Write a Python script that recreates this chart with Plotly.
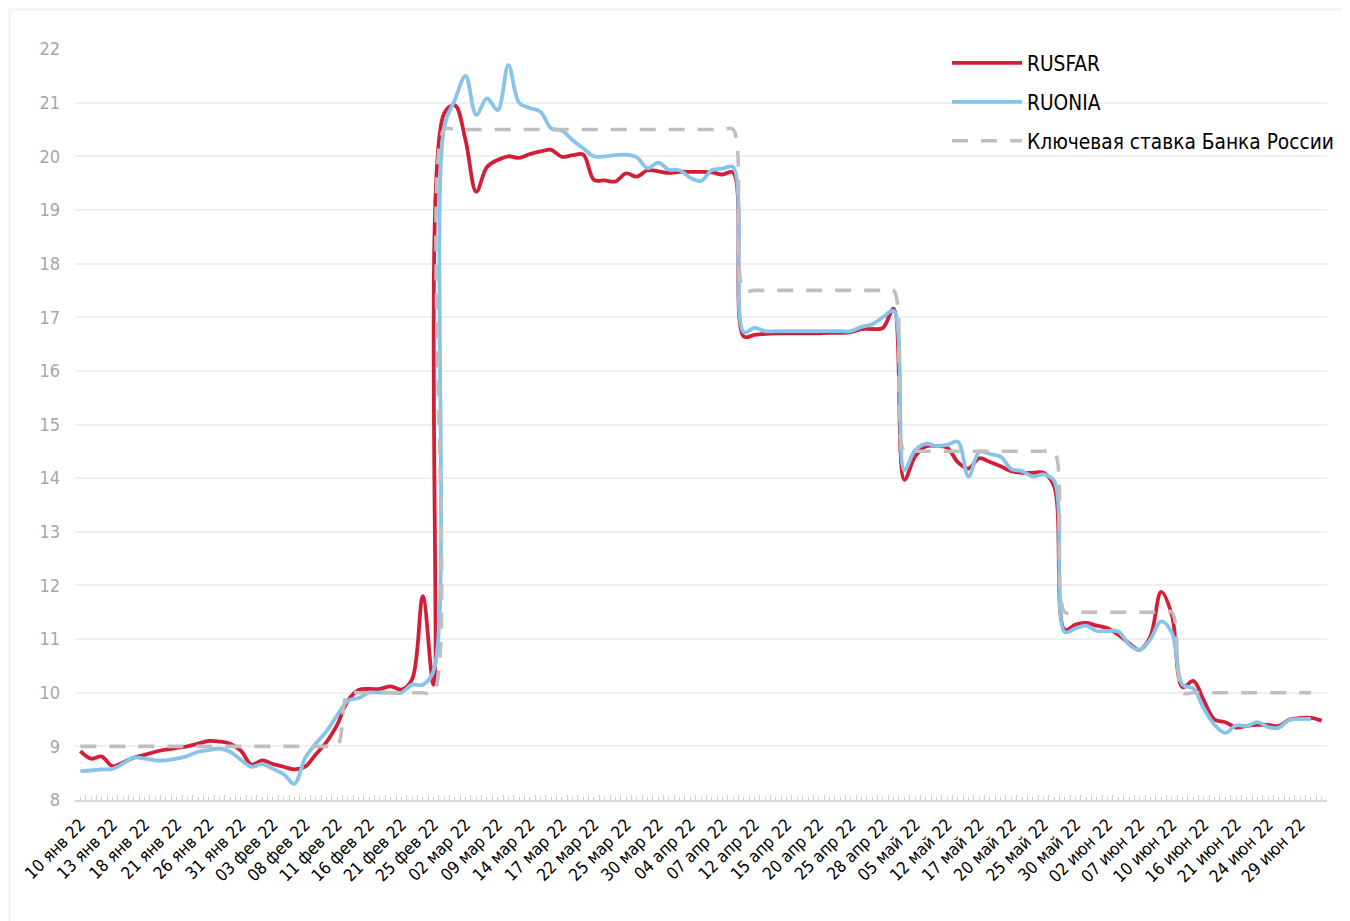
import plotly.graph_objects as go

# Business days (categories)
dates = [
    "10 янв 22", "11 янв 22", "12 янв 22", "13 янв 22", "14 янв 22",
    "17 янв 22", "18 янв 22", "19 янв 22", "20 янв 22", "21 янв 22",
    "24 янв 22", "25 янв 22", "26 янв 22", "27 янв 22", "28 янв 22",
    "31 янв 22",
    "01 фев 22", "02 фев 22", "03 фев 22", "04 фев 22",
    "07 фев 22", "08 фев 22", "09 фев 22", "10 фев 22", "11 фев 22",
    "14 фев 22", "15 фев 22", "16 фев 22", "17 фев 22", "18 фев 22",
    "21 фев 22", "22 фев 22", "24 фев 22", "25 фев 22", "28 фев 22",
    "01 мар 22", "02 мар 22", "03 мар 22", "04 мар 22",
    "09 мар 22", "10 мар 22", "11 мар 22",
    "14 мар 22", "15 мар 22", "16 мар 22", "17 мар 22", "18 мар 22",
    "21 мар 22", "22 мар 22", "23 мар 22", "24 мар 22", "25 мар 22",
    "28 мар 22", "29 мар 22", "30 мар 22", "31 мар 22",
    "01 апр 22", "04 апр 22", "05 апр 22", "06 апр 22", "07 апр 22",
    "08 апр 22", "11 апр 22", "12 апр 22", "13 апр 22", "14 апр 22",
    "15 апр 22", "18 апр 22", "19 апр 22", "20 апр 22", "21 апр 22",
    "22 апр 22", "25 апр 22", "26 апр 22", "27 апр 22", "28 апр 22",
    "29 апр 22",
    "04 май 22", "05 май 22", "06 май 22", "11 май 22", "12 май 22",
    "13 май 22", "16 май 22", "17 май 22", "18 май 22", "19 май 22",
    "20 май 22", "23 май 22", "24 май 22", "25 май 22", "26 май 22",
    "27 май 22", "30 май 22", "31 май 22",
    "01 июн 22", "02 июн 22", "03 июн 22", "06 июн 22", "07 июн 22",
    "08 июн 22", "09 июн 22", "10 июн 22", "14 июн 22", "15 июн 22",
    "16 июн 22", "17 июн 22", "20 июн 22", "21 июн 22", "22 июн 22",
    "23 июн 22", "24 июн 22", "27 июн 22", "28 июн 22", "29 июн 22",
    "30 июн 22", "01 июл 22",
]

rusfar = [
    8.91, 8.77, 8.81, 8.63, 8.70, 8.79, 8.84, 8.90, 8.94, 8.97,
    9.00, 9.05, 9.10, 9.09, 9.05, 8.92, 8.66, 8.74, 8.67, 8.62,
    8.57, 8.62, 8.85, 9.08, 9.40, 9.85, 10.05, 10.07, 10.07, 10.12,
    10.06, 10.25, 11.80, 10.15, 20.80, 20.95, 20.30, 19.34, 19.80, 19.93,
    20.00, 19.97, 20.04, 20.09, 20.12, 19.99, 20.02, 20.03, 19.56, 19.55,
    19.53, 19.68, 19.62, 19.74, 19.72, 19.69, 19.71, 19.71, 19.71, 19.70,
    19.66, 19.70, 16.64, 16.67, 16.69, 16.70, 16.70, 16.70, 16.70, 16.70,
    16.71, 16.71, 16.72, 16.78, 16.78, 16.80, 17.16, 13.97, 14.40, 14.59,
    14.60, 14.57, 14.30, 14.18, 14.37, 14.30, 14.22, 14.13, 14.10, 14.10,
    14.10, 13.85, 11.17, 11.27, 11.30, 11.25, 11.20, 11.08, 10.92, 10.80,
    11.05, 11.88, 11.45, 10.10, 10.22, 9.85, 9.50, 9.45, 9.35, 9.38,
    9.40, 9.40, 9.38, 9.50, 9.53, 9.53, 9.48,
]

ruonia = [
    8.54, 8.55, 8.57, 8.58, 8.68, 8.79, 8.77, 8.74, 8.74, 8.77,
    8.82, 8.90, 8.93, 8.96, 8.90, 8.75, 8.62, 8.67, 8.58, 8.48,
    8.30, 8.78, 9.05, 9.28, 9.58, 9.85, 9.90, 10.00, 10.00, 10.00,
    10.00, 10.15, 10.15, 10.40, 20.55, 21.05, 21.50, 20.77, 21.08, 20.86,
    21.70, 21.00, 20.90, 20.83, 20.52, 20.48, 20.30, 20.15, 20.00, 20.00,
    20.02, 20.03, 19.98, 19.78, 19.88, 19.75, 19.74, 19.60, 19.54, 19.74,
    19.77, 19.80, 16.72, 16.80, 16.74, 16.74, 16.74, 16.74, 16.74, 16.74,
    16.74, 16.74, 16.74, 16.82, 16.87, 17.00, 17.12, 14.15, 14.52, 14.64,
    14.60, 14.62, 14.68, 14.03, 14.49, 14.45, 14.40, 14.17, 14.13, 14.03,
    14.07, 13.95, 11.13, 11.20, 11.25, 11.15, 11.15, 11.14, 10.90, 10.80,
    11.00, 11.33, 11.12, 10.15, 10.08, 9.70, 9.40, 9.25, 9.39, 9.38,
    9.45, 9.36, 9.35, 9.49, 9.51, 9.51,
]

key_rate = [
    9.0, 9.0, 9.0, 9.0, 9.0, 9.0, 9.0, 9.0, 9.0, 9.0,
    9.0, 9.0, 9.0, 9.0, 9.0, 9.0, 9.0, 9.0, 9.0, 9.0,
    9.0, 9.0, 9.0, 9.0, 9.0, 10.0, 10.0, 10.0, 10.0, 10.0,
    10.0, 10.0, 10.0, 10.0, 20.5, 20.5, 20.5, 20.5, 20.5, 20.5,
    20.5, 20.5, 20.5, 20.5, 20.5, 20.5, 20.5, 20.5, 20.5, 20.5,
    20.5, 20.5, 20.5, 20.5, 20.5, 20.5, 20.5, 20.5, 20.5, 20.5,
    20.5, 20.5, 17.5, 17.5, 17.5, 17.5, 17.5, 17.5, 17.5, 17.5,
    17.5, 17.5, 17.5, 17.5, 17.5, 17.5, 17.5, 14.5, 14.5, 14.5,
    14.5, 14.5, 14.5, 14.5, 14.5, 14.5, 14.5, 14.5, 14.5, 14.5,
    14.5, 14.5, 11.5, 11.5, 11.5, 11.5, 11.5, 11.5, 11.5, 11.5,
    11.5, 11.5, 11.5, 10.0, 10.0, 10.0, 10.0, 10.0, 10.0, 10.0,
    10.0, 10.0, 10.0, 10.0, 10.0, 10.0,
]

y_ticks = list(range(8, 23))
label_step = 3

idx = list(range(len(dates)))
tick_idx = idx[::label_step]
tick_text = [dates[i] for i in tick_idx]

FONT = "DejaVu Sans Condensed, DejaVu Sans, sans-serif"

# page body adds 8px offset; margins compensate
ML, MR, MT, MB = 67, 31, 41, 129
PW = 1350 - ML - MR
PH = 921 - MT - MB

fig = go.Figure()
fig.add_trace(go.Scatter(
    x=idx[:len(rusfar)], y=rusfar, name="RUSFAR", mode="lines",
    line=dict(color="#d21f37", width=3.8, shape="spline", smoothing=1),
    legendgroup="a",
))
fig.add_trace(go.Scatter(
    x=idx[:len(ruonia)], y=ruonia, name="RUONIA", mode="lines",
    line=dict(color="#88c3ea", width=3.8, shape="spline", smoothing=1),
    legendgroup="b",
))
fig.add_trace(go.Scatter(
    x=idx[:len(key_rate)], y=key_rate, name="Ключевая ставка Банка России",
    mode="lines", xaxis="x2",
    line=dict(color="#bfbfbf", width=3.6, dash="16px,13px", shape="spline", smoothing=1),
    legendgroup="c",
))

xr = [-0.5, len(dates) - 0.5]

fig.update_layout(
    width=1350, height=921,
    margin=dict(l=ML, r=MR, t=MT, b=MB),
    paper_bgcolor="#f7f7f7",
    plot_bgcolor="white",
    font=dict(family=FONT, color="#000000"),
    showlegend=True,
    legend=dict(
        x=0.6965, y=1.008, xanchor="left", yanchor="top",
        font=dict(size=20.7, color="#000000", family=FONT),
        bgcolor="rgba(0,0,0,0)",
        itemwidth=70,
        traceorder="grouped",
        tracegroupgap=9,
    ),
    xaxis=dict(
        range=xr,
        tickmode="array", tickvals=tick_idx, ticktext=tick_text,
        tickangle=-45,
        tickfont=dict(size=17, color="#000000", family=FONT),
        ticks="",
        showgrid=False, zeroline=False,
        showline=True, linecolor="#d9d9d9", linewidth=2,
        ticklabelstandoff=6,
    ),
    xaxis2=dict(
        range=xr, overlaying="x", anchor="y", side="bottom",
        showticklabels=False, showgrid=False, zeroline=False, showline=False,
        tickmode="linear", tick0=-0.5, dtick=1,
        ticks="inside", ticklen=5, tickwidth=1, tickcolor="#cfcfcf",
        minor=dict(tickmode="linear", tick0=0, dtick=1, ticks="inside",
                   ticklen=3, tickwidth=1, tickcolor="#cfcfcf"),
    ),
    yaxis=dict(
        range=[8, 22],
        tickmode="array", tickvals=y_ticks,
        tickfont=dict(size=18, color="#a6a6a6", family=FONT),
        showgrid=True, gridcolor="#efefef", gridwidth=2,
        zeroline=False, showline=False, ticks="",
        ticklabelstandoff=14,
    ),
    shapes=[dict(
        type="rect", xref="paper", yref="paper",
        x0=(2 - ML) / PW, x1=(1400 - ML) / PW,
        y0=-0.3, y1=(921 - MB - 2) / PH,
        fillcolor="white", line=dict(color="#ececec", width=1),
        layer="below",
    )],
)

fig.write_html("out.html")
